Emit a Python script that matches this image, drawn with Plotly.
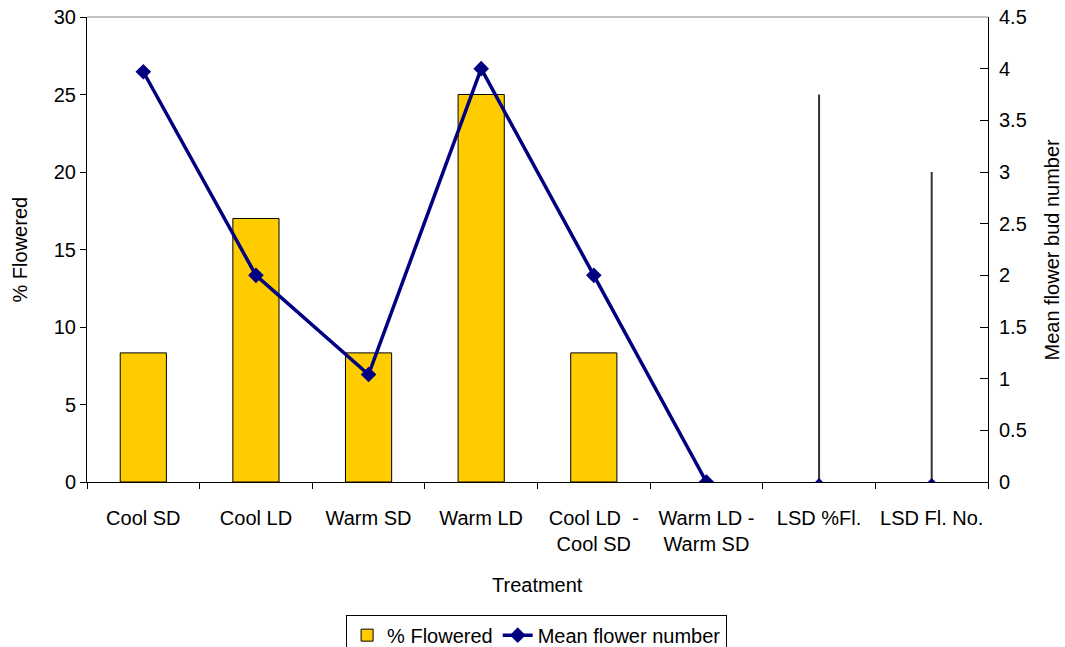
import plotly.graph_objects as go

# Treatments along the x axis
treatments = ["Cool SD", "Cool LD", "Warm SD", "Warm LD",
              "Cool LD  -<br>Cool SD", "Warm LD -<br>Warm SD",
              "LSD %Fl.", "LSD Fl. No."]

# % of plants that flowered (left axis)
pct_flowered = [8.33, 17, 8.33, 25, 8.33, None, None, None]

# Mean flower bud number (right axis)
mean_flower_number = [3.97, 2, 1.04, 4, 2, 0]

# Least significant differences, drawn as bars rising from zero
lsd_pct = 25     # in % flowered units
lsd_number = 3.0 # in flower bud units

FONT = "Liberation Sans, Arial, sans-serif"
NAVY = "#000080"
FS = 20

fig = go.Figure()

fig.add_trace(go.Bar(
    x=treatments, y=pct_flowered, name="% Flowered",
    marker=dict(color="#FFCC00", line=dict(color="black", width=1)),
    width=0.41, yaxis="y",
))

fig.add_trace(go.Scatter(
    x=treatments[:6], y=mean_flower_number, name="Mean flower number",
    mode="lines+markers", yaxis="y2",
    line=dict(color=NAVY, width=3.5),
    marker=dict(symbol="diamond", size=12, color=NAVY),
))

fig.add_trace(go.Scatter(
    x=[treatments[6]], y=[0], yaxis="y", mode="markers", showlegend=False,
    marker=dict(symbol="diamond", size=6, color=NAVY),
    error_y=dict(type="data", symmetric=False, array=[lsd_pct], arrayminus=[0],
                 color="#333333", thickness=2, width=0),
))

fig.add_trace(go.Scatter(
    x=[treatments[7]], y=[0], yaxis="y2", mode="markers", showlegend=False,
    marker=dict(symbol="diamond", size=6, color=NAVY),
    error_y=dict(type="data", symmetric=False, array=[lsd_number], arrayminus=[0],
                 color="#333333", thickness=2, width=0),
))

axis_common = dict(showgrid=False, zeroline=False, linecolor="black", linewidth=1,
                   tickcolor="black", automargin=False,
                   tickfont=dict(family=FONT, size=FS, color="black"))
overlay_common = dict(showticklabels=False, showline=False, showgrid=False,
                      zeroline=False, tickcolor="black", automargin=False)

fig.update_layout(
    width=1065, height=647,
    margin=dict(l=87, r=77, t=17, b=165),
    plot_bgcolor="white", paper_bgcolor="white",
    font=dict(family=FONT, size=FS, color="black"),
    bargap=0.59,
    xaxis=dict(type="category", range=[-0.5, 7.5], tickson="boundaries",
               ticks="outside", ticklen=6, showline=True, ticklabelstandoff=18,
               **axis_common),
    # duplicate axes for the inward half of the crossing ticks
    xaxis2=dict(overlaying="x", anchor="y", range=[-0.5, 7.5], side="bottom",
                tickvals=[-0.5 + i for i in range(9)], ticks="inside", ticklen=7,
                **overlay_common),
    yaxis=dict(range=[0, 30], dtick=5, ticks="outside", ticklen=6, showline=True,
               **axis_common),
    yaxis3=dict(overlaying="y", range=[0, 30], dtick=5, side="left", anchor="x",
                ticks="inside", ticklen=6, **overlay_common),
    yaxis2=dict(overlaying="y", side="right", anchor="x", range=[0, 4.5], dtick=0.5,
                ticks="inside", ticklen=8, showline=True, ticklabelstandoff=6,
                **axis_common),
    yaxis4=dict(overlaying="y", side="right", anchor="x", range=[0, 4.5], dtick=0.5,
                ticks="outside", ticklen=3, **overlay_common),
    legend=dict(orientation="h", x=0.499, xanchor="center",
                yref="container", y=0.05, yanchor="top",
                bordercolor="black", borderwidth=1, bgcolor="white",
                font=dict(family=FONT, size=FS, color="black"),
                itemwidth=30, tracegroupgap=0),
    showlegend=True,
)

# Plot area top border
fig.add_shape(type="line", xref="paper", yref="paper", x0=0, x1=1, y0=1, y1=1,
              line=dict(color="#888888", width=1))

# Axis titles
title_font = dict(family=FONT, size=FS, color="black")
fig.add_annotation(text="Treatment", xref="paper", yref="paper", x=0.5, y=-0.222,
                   xanchor="center", yanchor="middle", showarrow=False, font=title_font)
fig.add_annotation(text="% Flowered", xref="paper", yref="paper", x=-0.0744, y=0.5,
                   xanchor="center", yanchor="middle", textangle=-90,
                   showarrow=False, font=title_font)
fig.add_annotation(text="Mean flower bud number", xref="paper", yref="paper",
                   x=1.071, y=0.5, xanchor="center", yanchor="middle", textangle=-90,
                   showarrow=False, font=title_font)

fig.write_html("out.html")
